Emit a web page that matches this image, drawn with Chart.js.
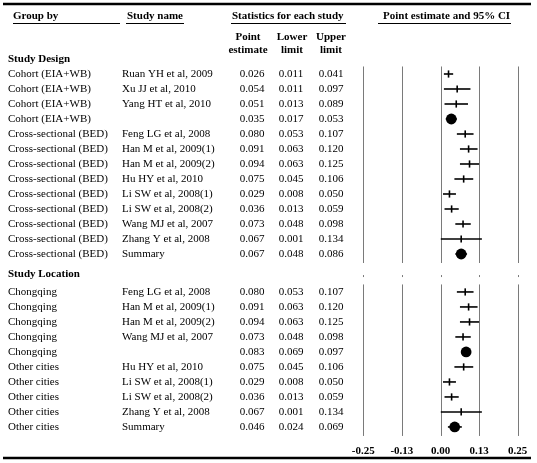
<!DOCTYPE html>
<html>
<head>
<meta charset="utf-8">
<script src="https://cdn.jsdelivr.net/npm/chart.js@4"></script>
<style>
  body { margin: 0; background: #fff; }
  #wrap { width: 537px; height: 463px; position: relative; }
</style>
</head>
<body>
<div id="wrap"><canvas id="forest"></canvas></div>
<script>
// Study design block
const designGroups = ['Cohort (EIA+WB)', 'Cohort (EIA+WB)', 'Cohort (EIA+WB)', 'Cohort (EIA+WB)',
    'Cross-sectional (BED)', 'Cross-sectional (BED)', 'Cross-sectional (BED)', 'Cross-sectional (BED)',
    'Cross-sectional (BED)', 'Cross-sectional (BED)', 'Cross-sectional (BED)', 'Cross-sectional (BED)',
    'Cross-sectional (BED)'];
const designStudies = ['Ruan YH et al, 2009', 'Xu JJ et al, 2010', 'Yang HT et al, 2010', '',
    'Feng LG et al, 2008', 'Han M et al, 2009(1)', 'Han M et al, 2009(2)', 'Hu HY et al, 2010',
    'Li SW et al, 2008(1)', 'Li SW et al, 2008(2)', 'Wang MJ et al, 2007', 'Zhang Y et al, 2008', 'Summary'];
const designPoint = [0.026, 0.054, 0.051, 0.035, 0.080, 0.091, 0.094, 0.075, 0.029, 0.036, 0.073, 0.067, 0.067];
const designLower = [0.011, 0.011, 0.013, 0.017, 0.053, 0.063, 0.063, 0.045, 0.008, 0.013, 0.048, 0.001, 0.048];
const designUpper = [0.041, 0.097, 0.089, 0.053, 0.107, 0.120, 0.125, 0.106, 0.050, 0.059, 0.098, 0.134, 0.086];
const designSummary = [false, false, false, true, false, false, false, false, false, false, false, false, true];

// Study location block
const locationGroups = ['Chongqing', 'Chongqing', 'Chongqing', 'Chongqing', 'Chongqing',
    'Other cities', 'Other cities', 'Other cities', 'Other cities', 'Other cities'];
const locationStudies = ['Feng LG et al, 2008', 'Han M et al, 2009(1)', 'Han M et al, 2009(2)', 'Wang MJ et al, 2007', '',
    'Hu HY et al, 2010', 'Li SW et al, 2008(1)', 'Li SW et al, 2008(2)', 'Zhang Y et al, 2008', 'Summary'];
const locationPoint = [0.080, 0.091, 0.094, 0.073, 0.083, 0.075, 0.029, 0.036, 0.067, 0.046];
const locationLower = [0.053, 0.063, 0.063, 0.048, 0.069, 0.045, 0.008, 0.013, 0.001, 0.024];
const locationUpper = [0.107, 0.120, 0.125, 0.098, 0.097, 0.106, 0.050, 0.059, 0.134, 0.069];
const locationSummary = [false, false, false, false, true, false, false, false, false, true];

const tickValues = [-0.25, -0.125, 0, 0.125, 0.25];
const tickLabels = ['-0.25', '-0.13', '0.00', '0.13', '0.25'];

// row layout: design rows 1..13, location rows start after a small gap
const blocks = [
    { title: 'Study Design', groups: designGroups, studies: designStudies, point: designPoint,
      lower: designLower, upper: designUpper, summary: designSummary, start: 1 },
    { title: 'Study Location', groups: locationGroups, studies: locationStudies, point: locationPoint,
      lower: locationLower, upper: locationUpper, summary: locationSummary, start: 15.53 }
];

const datasets = [];
const studyPts = [], summaryPts = [];
blocks.forEach(b => {
    b.point.forEach((p, i) => {
        const y = b.start + i;
        datasets.push({ type: 'line', data: [{ x: b.lower[i], y }, { x: b.upper[i], y }],
            borderColor: '#000', borderWidth: 1.6, pointRadius: 0, showLine: true });
        (b.summary[i] ? summaryPts : studyPts).push({ x: p, y });
    });
});
datasets.push({ type: 'scatter', data: studyPts, pointStyle: 'line', rotation: 90,
    pointRadius: 3.6, borderColor: '#000', borderWidth: 1.6 });
datasets.push({ type: 'scatter', data: summaryPts, pointStyle: 'circle',
    pointRadius: 5.4, backgroundColor: '#000', borderColor: '#000', borderWidth: 0 });

const serif = '"Liberation Serif", "Times New Roman", serif';

const forestTable = {
    id: 'forestTable',
    beforeDatasetsDraw(chart) {
        const ctx = chart.ctx, xs = chart.scales.x, ys = chart.scales.y;
        ctx.save();
        ctx.strokeStyle = '#7a7a7a';
        ctx.lineWidth = 1;
        blocks.forEach(b => {
            const top = ys.getPixelForValue(b.start - 0.5);
            const bot = ys.getPixelForValue(b.start + b.point.length - 0.4);
            tickValues.forEach(v => {
                const x = Math.round(xs.getPixelForValue(v)) + 0.5;
                ctx.beginPath(); ctx.moveTo(x, top); ctx.lineTo(x, bot); ctx.stroke();
            });
        });
        // little marks between the two panels
        const my = ys.getPixelForValue(14.47);
        tickValues.forEach(v => {
            const x = Math.round(xs.getPixelForValue(v)) + 0.5;
            ctx.beginPath(); ctx.moveTo(x, my - 1); ctx.lineTo(x, my + 1); ctx.stroke();
        });
        ctx.restore();
    },
    afterDraw(chart) {
        const ctx = chart.ctx, xs = chart.scales.x, ys = chart.scales.y;
        ctx.save();
        ctx.fillStyle = '#000';
        ctx.strokeStyle = '#000';
        ctx.textBaseline = 'middle';

        // rules
        ctx.lineWidth = 2.5;
        ctx.beginPath(); ctx.moveTo(3, 4); ctx.lineTo(531, 4); ctx.stroke();
        ctx.beginPath(); ctx.moveTo(3, 458); ctx.lineTo(531, 458); ctx.stroke();
        ctx.lineWidth = 1;
        [[13, 120], [126, 184], [231, 346], [378, 511]].forEach(([a, z]) => {
            ctx.beginPath(); ctx.moveTo(a, 23.5); ctx.lineTo(z, 23.5); ctx.stroke();
        });

        // header
        ctx.font = '700 11px ' + serif;
        ctx.textAlign = 'left';
        ctx.fillText('Group by', 13, 16);
        ctx.fillText('Study name', 127, 16);
        ctx.fillText('Statistics for each study', 232, 16);
        ctx.fillText('Point estimate and 95% CI', 383, 16);
        ctx.textAlign = 'center';
        ctx.fillText('Point', 248, 37); ctx.fillText('estimate', 248, 50);
        ctx.fillText('Lower', 292, 37); ctx.fillText('limit', 292, 50);
        ctx.fillText('Upper', 331, 37); ctx.fillText('limit', 331, 50);

        blocks.forEach(b => {
            ctx.font = '700 11px ' + serif;
            ctx.textAlign = 'left';
            ctx.fillText(b.title, 8, ys.getPixelForValue(b.start - (b.start > 1 ? 1.2 : 1)));
            ctx.font = '11px ' + serif;
            b.point.forEach((p, i) => {
                const y = ys.getPixelForValue(b.start + i);
                ctx.textAlign = 'left';
                ctx.fillText(b.groups[i], 8, y);
                ctx.fillText(b.studies[i], 122, y);
                ctx.textAlign = 'center';
                ctx.fillText(p.toFixed(3), 252, y);
                ctx.fillText(b.lower[i].toFixed(3), 291, y);
                ctx.fillText(b.upper[i].toFixed(3), 331, y);
            });
        });

        // axis labels
        ctx.font = '700 11px ' + serif;
        ctx.textAlign = 'center';
        tickValues.forEach((v, i) => ctx.fillText(tickLabels[i], xs.getPixelForValue(v), 451));
        ctx.restore();
    }
};

new Chart(document.getElementById('forest').getContext('2d'), {
    type: 'scatter',
    data: { datasets },
    options: {
        responsive: true, maintainAspectRatio: false, animation: false,
        layout: { padding: 0, autoPadding: false },
        plugins: { legend: { display: false }, tooltip: { enabled: false } },
        scales: {
            x: { type: 'linear', display: false, min: -1.4265, max: 0.3125 },
            y: { type: 'linear', display: false, reverse: true, min: -3.933, max: 26.933 }
        }
    },
    plugins: [forestTable]
});
</script>
</body>
</html>
